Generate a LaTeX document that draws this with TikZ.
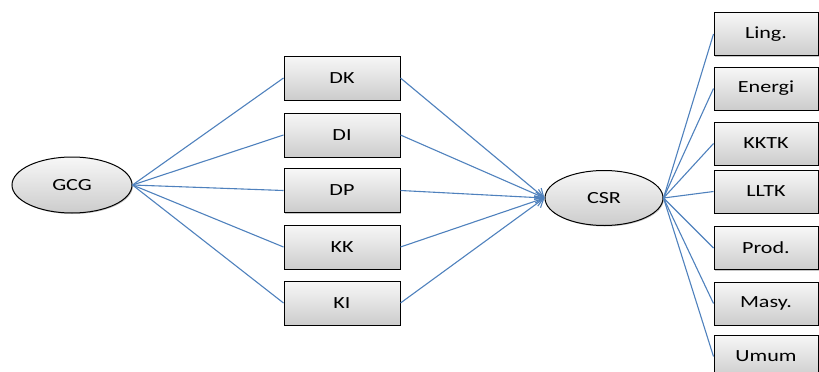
\documentclass[tikz,border=0pt]{standalone}
\usepackage{fontspec}
\newfontfamily\boxfont[FakeStretch=1.3]{Carlito}
\usetikzlibrary{shapes.geometric,arrows.meta,shadows}

\definecolor{linkblue}{HTML}{4F81BD}

\tikzset{
  shade/.style={top color=gray!6,bottom color=gray!40,
    drop shadow={shadow xshift=1pt,shadow yshift=-1pt,opacity=0.45}},
  box/.style={shade,draw=black,line width=1pt,rectangle,minimum height=44pt,inner sep=0pt,
    font=\boxfont\fontsize{17}{17}\selectfont},
  midbox/.style={box,minimum width=116pt},
  sidebox/.style={box,minimum width=104pt,minimum height=43pt},
  blob/.style={shade,draw=black,line width=1pt,ellipse,inner sep=0pt,
    font=\boxfont\fontsize{17}{17}\selectfont},
  link/.style={draw=linkblue,line width=1.1pt},
  pointer/.style={link,-{Straight Barb[length=8pt,width=11pt,line width=1.1pt]}}
}

\begin{document}
\begin{tikzpicture}[x=1pt,y=-1pt]
\useasboundingbox (0,0) rectangle (819,372);
\clip (0,0) rectangle (819,372);

% The two ellipses
\node[blob,minimum width=120pt,minimum height=56pt] (gcg) at (72,185) {GCG};
\node[blob,minimum width=118pt,minimum height=55pt] (csr) at (604,198) {CSR};

% The middle column
\node[midbox] (dk) at (342,78) {DK};
\node[midbox] (di) at (342,135) {DI};
\node[midbox] (dp) at (342,190.5) {DP};
\node[midbox] (kk) at (342,247) {KK};
\node[midbox] (ki) at (342,303) {KI};

% The right column
\node[sidebox] (ling) at (766,34) {Ling.};
\node[sidebox] (energi) at (766,88.5) {Energi};
\node[sidebox] (kktk) at (766,143.5) {KKTK};
\node[sidebox] (lltk) at (766,191.5) {LLTK};
\node[sidebox] (prod) at (766,248) {Prod.};
\node[sidebox] (masy) at (766,303.5) {Masy.};
\node[sidebox] (umum) at (766,356.5) {Umum};

% GCG to the middle column, and on to CSR
\foreach \mid in {dk,di,dp,kk,ki}
{
  \draw[link] (gcg.east) -- (\mid.west);
  \draw[pointer] (\mid.east) -- (csr.west);
}

% CSR to the right column
\foreach \side in {ling,energi,kktk,lltk,prod,masy,umum}
  \draw[link] (csr.east) -- (\side.west);
\end{tikzpicture}
\end{document}
